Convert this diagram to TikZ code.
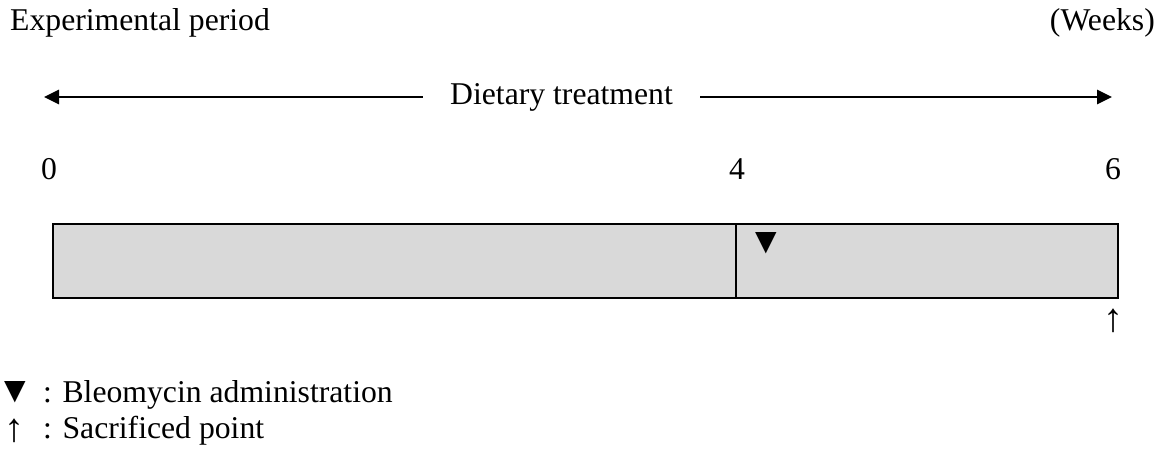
\documentclass[tikz,border=0pt]{standalone}
\usepackage{fontspec}
\setmainfont{Liberation Serif}
\newfontfamily\symb{DejaVu Sans}
\usetikzlibrary{arrows.meta}
\definecolor{grisbarre}{RGB}{217,217,217}

\begin{document}
\begin{tikzpicture}[x=1pt, y=-1pt]
	\tikzset{texte/.style={inner sep=0pt, font=\fontsize{31.7}{38}\selectfont}, marque/.style={inner sep=0pt, font=\symb\fontsize{28}{30}\selectfont}, sacre/.style={inner sep=0pt, font=\fontsize{40}{44}\selectfont}, fleche/.style={line width=2.8pt, -{Triangle[length=15pt, width=14pt]}}, barre/.style={draw=black, fill=grisbarre, line width=2.6pt}};

	\useasboundingbox (0,0) rectangle (1162,449);

	\node[texte, anchor=base west] (titre) at (  10,   31) {Experimental period};
	\node[texte, anchor=base east] (unite) at (1155,   31) {(Weeks)};

	\node[texte, inner xsep=27pt] (regime) at ( 561.5, 97) {Dietary treatment};
	\coordinate (g) at (  44,   97);
	\coordinate (d) at (1112,   97);

	\node[texte, anchor=base] (s0) at (  49, 179.5) {0};
	\node[texte, anchor=base] (s4) at ( 737, 179.5) {4};
	\node[texte, anchor=base] (s6) at (1113, 179.5) {6};

	\coordinate (hg) at (  53,  224);
	\coordinate (bd) at (1118,  298);
	\coordinate (h4) at ( 736,  224);
	\coordinate (b4) at ( 736,  298);

	\draw[fleche] (regime) to (g);
	\draw[fleche] (regime) to (d);

	\draw[barre] (hg) rectangle (bd);
	\draw[line width=2.4pt] (h4) -- (b4);

	\node[marque] (bleo) at ( 766,  243) {▼};
	\node[sacre] (sacr) at (1113,  321) {↑};

	\node[marque] (lbleo) at (  15,  392) {▼};
	\node[sacre] (lsacr) at (  15,  431) {↑};
	\node[texte, anchor=base west] (tbleo) at (  43,  402) {: Bleomycin administration};
	\node[texte, anchor=base west] (tsacr) at (  43,  438) {: Sacrificed point};

\end{tikzpicture}
\end{document}
